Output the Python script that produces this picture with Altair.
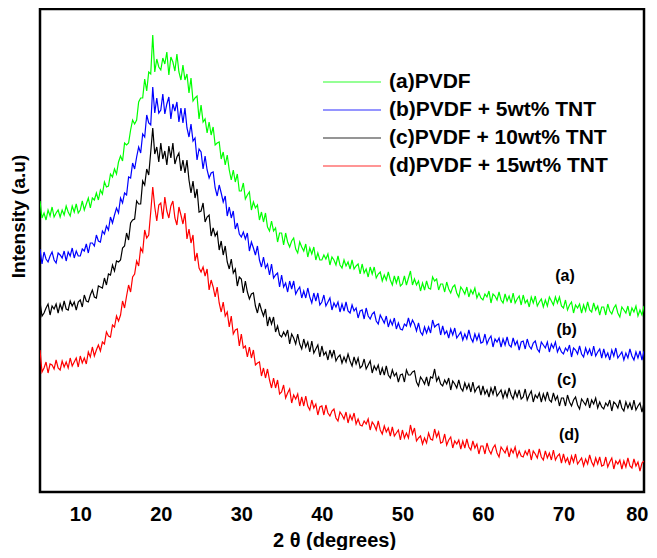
import altair as alt
import pandas as pd

# 2-theta sampling (degrees), 5.00 .. 80.00 every 0.25
two_theta = [5.0 + 0.25 * i for i in range(301)]

# Intensities (a.u.); each row covers 5 degrees (20 points)
pvdf = [
    291, 274, 279, 272, 282, 276, 285, 275, 279, 282, 275, 282, 277, 286, 280, 276, 286, 280, 288, 279,
    282, 291, 282, 288, 294, 284, 294, 292, 299, 292, 302, 298, 310, 305, 306, 318, 315, 323, 318, 330,
    336, 331, 349, 347, 349, 362, 372, 368, 372, 390, 394, 394, 413, 401, 420, 418, 457, 420, 433, 425,
    422, 434, 428, 440, 417, 435, 430, 421, 438, 420, 412, 427, 412, 418, 399, 414, 391, 394, 396, 373,
    387, 370, 373, 359, 370, 357, 365, 347, 349, 350, 333, 340, 327, 337, 322, 312, 322, 310, 318, 301,
    301, 309, 293, 297, 300, 282, 290, 284, 287, 272, 280, 270, 279, 265, 261, 271, 261, 264, 250, 259,
    259, 247, 259, 250, 245, 251, 254, 243, 239, 250, 245, 241, 248, 235, 244, 238, 245, 232, 239, 232,
    232, 237, 233, 238, 227, 235, 232, 227, 236, 227, 224, 232, 226, 230, 223, 232, 223, 226, 228, 218,
    228, 219, 223, 215, 225, 218, 225, 214, 218, 220, 211, 217, 212, 220, 212, 207, 216, 209, 216, 206,
    208, 216, 207, 214, 221, 207, 213, 207, 211, 201, 209, 202, 211, 204, 203, 215, 211, 213, 202, 208,
    208, 200, 210, 203, 199, 205, 207, 199, 195, 205, 202, 198, 205, 195, 202, 198, 204, 194, 199, 194,
    192, 198, 195, 201, 189, 198, 196, 192, 200, 192, 189, 198, 191, 196, 189, 199, 189, 193, 196, 187,
    197, 189, 192, 185, 195, 189, 196, 186, 190, 193, 185, 192, 186, 195, 191, 187, 195, 189, 195, 186,
    184, 192, 182, 187, 190, 179, 187, 184, 188, 179, 187, 181, 190, 182, 180, 189, 182, 186, 177, 185,
    185, 177, 188, 181, 178, 184, 187, 179, 175, 185, 182, 179, 186, 176, 184, 180, 186, 176, 182, 177,
    186,
]
pvdf_5 = [
    243, 228, 240, 233, 230, 236, 240, 232, 229, 239, 237, 234, 241, 231, 240, 236, 244, 234, 241, 236,
    236, 243, 241, 248, 239, 249, 249, 246, 257, 251, 250, 261, 258, 266, 262, 275, 269, 277, 284, 279,
    294, 289, 299, 297, 315, 314, 329, 323, 335, 345, 339, 358, 355, 377, 369, 367, 405, 379, 394, 379,
    382, 398, 378, 388, 395, 373, 388, 381, 390, 370, 384, 369, 384, 364, 355, 368, 351, 354, 332, 343,
    340, 323, 336, 322, 314, 319, 320, 304, 296, 307, 299, 290, 296, 276, 285, 274, 281, 263, 269, 258,
    255, 260, 253, 259, 241, 250, 244, 237, 246, 232, 225, 235, 224, 228, 217, 228, 214, 217, 219, 205,
    217, 205, 209, 200, 211, 203, 211, 198, 202, 205, 194, 201, 194, 204, 195, 189, 199, 191, 199, 187,
    190, 197, 186, 190, 194, 182, 189, 185, 190, 180, 188, 181, 190, 181, 179, 187, 181, 184, 174, 181,
    182, 173, 184, 176, 173, 178, 180, 171, 168, 177, 173, 169, 176, 165, 172, 167, 174, 163, 169, 163,
    162, 168, 166, 174, 166, 172, 168, 161, 169, 160, 157, 165, 159, 165, 159, 172, 165, 167, 168, 157,
    166, 158, 161, 154, 163, 157, 164, 154, 157, 160, 152, 158, 153, 162, 154, 150, 158, 152, 158, 149,
    150, 158, 148, 153, 156, 145, 153, 150, 154, 145, 153, 147, 155, 147, 145, 154, 147, 151, 142, 150,
    151, 143, 153, 146, 143, 149, 151, 143, 140, 150, 147, 144, 150, 140, 148, 144, 150, 140, 145, 140,
    138, 144, 141, 147, 135, 144, 142, 138, 146, 138, 135, 144, 138, 143, 136, 146, 136, 140, 143, 134,
    143, 135, 139, 132, 142, 136, 144, 134, 137, 140, 132, 139, 134, 143, 136, 132, 140, 134, 141, 132,
    141,
]
pvdf_10 = [
    190, 176, 179, 184, 188, 177, 186, 183, 188, 179, 188, 182, 191, 183, 182, 191, 186, 190, 182, 190,
    192, 185, 197, 191, 190, 197, 202, 195, 194, 206, 205, 204, 214, 207, 218, 217, 227, 221, 231, 230,
    232, 244, 246, 259, 252, 269, 272, 273, 291, 288, 288, 311, 307, 323, 317, 340, 364, 338, 345, 330,
    349, 333, 341, 327, 346, 334, 349, 328, 335, 339, 321, 332, 319, 332, 312, 299, 311, 294, 303, 280,
    281, 289, 270, 275, 277, 256, 264, 256, 260, 242, 251, 237, 246, 230, 223, 233, 219, 223, 206, 215,
    213, 199, 211, 200, 193, 198, 199, 186, 179, 189, 182, 176, 183, 166, 175, 168, 175, 160, 166, 157,
    155, 160, 156, 162, 148, 158, 154, 148, 158, 148, 143, 153, 145, 150, 140, 151, 139, 143, 147, 135,
    146, 137, 140, 132, 142, 135, 142, 131, 135, 137, 129, 135, 130, 138, 131, 126, 135, 128, 134, 124,
    126, 133, 123, 127, 131, 119, 126, 122, 127, 117, 124, 117, 126, 117, 114, 122, 116, 119, 110, 117,
    118, 110, 122, 117, 117, 120, 121, 110, 106, 115, 112, 108, 115, 106, 115, 114, 123, 111, 115, 108,
    106, 112, 108, 114, 102, 111, 108, 104, 112, 104, 101, 109, 103, 108, 100, 110, 100, 104, 106, 97,
    106, 98, 102, 95, 104, 98, 106, 96, 99, 102, 94, 101, 95, 104, 97, 93, 101, 95, 102, 93,
    95, 103, 92, 97, 101, 90, 97, 94, 99, 90, 98, 92, 100, 92, 90, 99, 92, 96, 86, 94,
    94, 86, 97, 90, 86, 92, 95, 87, 83, 93, 90, 87, 94, 84, 92, 88, 94, 84, 90, 85,
    83, 89, 86, 92, 81, 90, 88, 84, 92, 84, 81, 90, 84, 89, 82, 92, 82, 86, 89, 80,
    89,
]
pvdf_15 = [
    142, 120, 124, 130, 119, 128, 127, 123, 132, 124, 122, 131, 125, 130, 124, 134, 126, 130, 134, 125,
    136, 129, 134, 128, 140, 135, 145, 136, 142, 147, 141, 150, 148, 160, 156, 155, 167, 165, 176, 171,
    177, 191, 184, 196, 207, 200, 215, 218, 231, 226, 244, 240, 262, 254, 257, 280, 305, 285, 271, 287,
    289, 273, 295, 281, 274, 286, 291, 274, 267, 285, 277, 268, 279, 253, 263, 249, 257, 231, 239, 224,
    220, 225, 216, 223, 202, 212, 205, 195, 205, 189, 180, 190, 176, 180, 165, 176, 158, 162, 163, 146,
    158, 144, 146, 135, 145, 134, 142, 127, 129, 130, 116, 124, 114, 123, 112, 104, 114, 104, 112, 98,
    100, 107, 94, 99, 103, 89, 97, 93, 98, 86, 95, 86, 96, 86, 82, 92, 84, 88, 77, 85,
    86, 77, 87, 79, 76, 81, 83, 74, 71, 80, 77, 73, 80, 69, 77, 72, 79, 68, 73, 67,
    66, 71, 68, 73, 62, 70, 67, 62, 71, 62, 58, 66, 60, 64, 56, 65, 56, 59, 62, 52,
    62, 54, 59, 54, 67, 58, 64, 51, 54, 56, 48, 54, 49, 59, 53, 52, 63, 55, 60, 49,
    50, 58, 47, 52, 55, 44, 51, 48, 52, 43, 51, 44, 53, 45, 42, 51, 44, 48, 38, 46,
    46, 38, 49, 42, 38, 44, 47, 39, 35, 45, 42, 39, 45, 35, 43, 39, 45, 35, 41, 36,
    35, 41, 37, 43, 32, 41, 38, 34, 43, 35, 32, 41, 34, 39, 32, 42, 32, 36, 38, 29,
    38, 30, 34, 27, 36, 30, 38, 28, 31, 34, 26, 33, 28, 37, 30, 26, 34, 28, 35, 26,
    27, 35, 25, 30, 34, 23, 31, 28, 32, 23, 31, 25, 34, 26, 24, 33, 26, 30, 21, 29,
    31,
]

series_names = [
    "(a)PVDF",
    "(b)PVDF + 5wt% TNT",
    "(c)PVDF + 10wt% TNT",
    "(d)PVDF + 15wt% TNT",
]
series_colors = ["#00ff00", "#0000ff", "#000000", "#ff0000"]

tag_text = ["(a)", "(b)", "(c)", "(d)"]
tag_x = [70.2, 70.4, 70.4, 70.7]
tag_y = [216, 162, 112, 57]

FONT = "Liberation Sans"

rows = []
for name, vals in zip(series_names, [pvdf, pvdf_5, pvdf_10, pvdf_15]):
    assert len(vals) == len(two_theta), (name, len(vals))
    for x, v in zip(two_theta, vals):
        rows.append({"theta": x, "intensity": v, "sample": name})
df = pd.DataFrame(rows)
tags = pd.DataFrame({"x": tag_x, "y": tag_y, "t": tag_text})

xscale = alt.Scale(domain=[5, 80], nice=False)
yscale = alt.Scale(domain=[0, 483], nice=False)

lines = alt.Chart(df).mark_line(strokeWidth=1.2, clip=True).encode(
    x=alt.X(
        "theta:Q",
        scale=xscale,
        axis=alt.Axis(
            title="2 θ (degrees)",
            values=[10, 20, 30, 40, 50, 60, 70, 80],
            grid=False, ticks=False, tickSize=0, domain=False,
            labelFont=FONT, labelFontSize=20, labelFontWeight="bold",
            labelColor="black", labelBaseline="alphabetic", labelPadding=28,
            labelFlush=True, labelFlushOffset=4,
            titleFont=FONT, titleFontSize=20, titleFontWeight="bold",
            titleColor="black", titleBaseline="alphabetic",
            titleX=294, titleY=54, titleAnchor="middle",
        ),
    ),
    y=alt.Y(
        "intensity:Q",
        scale=yscale,
        axis=alt.Axis(
            title="Intensity (a.u)",
            labels=False, ticks=False, tickSize=0, grid=False, domain=False,
            titleFont=FONT, titleFontSize=19, titleFontWeight="bold",
            titleColor="black", titleAngle=270, titleBaseline="alphabetic",
            titleX=-16, titleY=207, titleAlign="center",
        ),
    ),
    color=alt.Color(
        "sample:N",
        scale=alt.Scale(domain=series_names, range=series_colors),
        legend=alt.Legend(
            title=None, orient="none", legendX=301, legendY=62,
            symbolType="M-2.9,0H2.9", symbolSize=400, symbolStrokeWidth=1.3,
            symbolOpacity=0.55,
            labelFont=FONT, labelFontSize=21, labelFontWeight="bold",
            labelColor="black", labelOffset=26, rowPadding=7, padding=0,
            labelLimit=400,
        ),
    ),
    order=alt.Order("theta:Q"),
)

labels = alt.Chart(tags).mark_text(
    font=FONT, fontSize=16, fontWeight="bold", color="black",
    align="center", baseline="middle",
).encode(
    x=alt.X("x:Q", scale=xscale),
    y=alt.Y("y:Q", scale=yscale),
    text="t:N",
)

chart = (
    alt.layer(lines, labels)
    .properties(
        width=604, height=483,
        autosize=alt.AutoSizeParams(type="none"),
        padding={"left": 32, "top": 1, "right": 5, "bottom": 58},
        background="white",
    )
    .configure_view(stroke="black", strokeWidth=2.5)
)

chart.save("out.html", embed_options={"renderer": "svg", "actions": False})
